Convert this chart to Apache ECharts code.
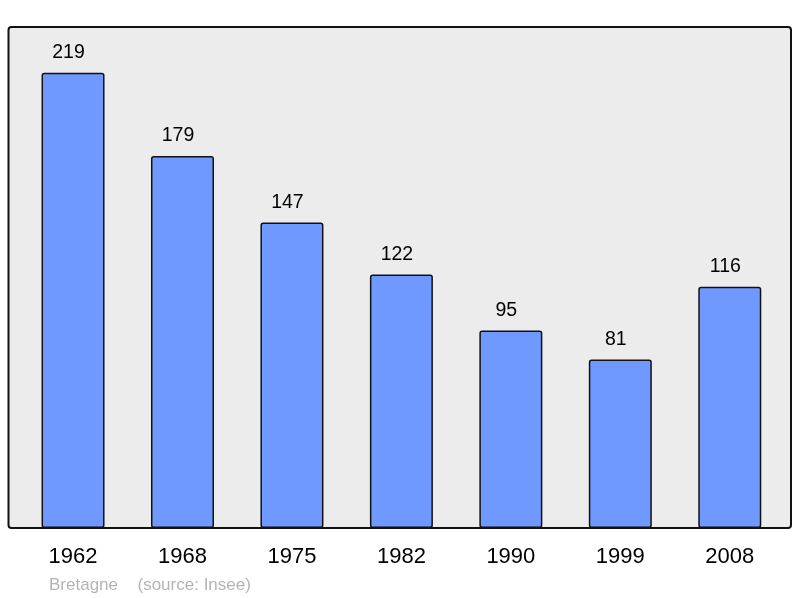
<!DOCTYPE html>
<html>
<head>
<meta charset="utf-8">
<script src="https://cdn.jsdelivr.net/npm/echarts@6/dist/echarts.min.js"></script>
<style>
html,body{margin:0;padding:0;background:#fff;}
#main{width:800px;height:598px;}
</style>
</head>
<body>
<div id="main"></div>
<script>
var annees = ['1962','1968','1975','1982','1990','1999','2008'];
var population = [219,179,147,122,95,81,116];
var region = 'Bretagne';
var source = '(source: Insee)';

var myChart = echarts.init(document.getElementById('main'));
var option = {
	animation: false,
	backgroundColor: '#ffffff',
	/*fond gris du graphique*/
	graphic: [
		{
			type: 'rect',
			z: 0,
			shape: {x: 8.5, y: 27, width: 782.5, height: 501, r: 3},
			style: {fill: '#ececec', stroke: '#111', lineWidth: 2}
		},
		{
			type: 'text',
			x: 49,
			y: 585,
			style: {text: region, fill: '#b4b4b4', verticalAlign: 'middle', font: '17px "Liberation Sans", Arial, sans-serif'}
		},
		{
			type: 'text',
			x: 137.5,
			y: 585,
			style: {text: source, fill: '#b4b4b4', verticalAlign: 'middle', font: '17px "Liberation Sans", Arial, sans-serif'}
		}
	],
	grid: {left: 18.3, right: 15.5, top: 27, bottom: 70},
	xAxis: {
		type: 'category',
		data: annees,
		axisLine: {show: false},
		axisTick: {show: false},
		axisLabel: {
			color: '#000',
			fontSize: 22,
			fontFamily: '"Liberation Sans", Arial, sans-serif',
			margin: 18
		}
	},
	yAxis: {
		type: 'value',
		min: 0,
		max: 241,
		show: false,
		splitLine: {show: false}
	},
	series: [
		{
			type: 'bar',
			data: population,
			barWidth: 63,
			z: 2,
			itemStyle: {
				color: '#7099ff',
				borderColor: '#111',
				borderWidth: 1.5,
				borderRadius: 2
			},
			label: {
				show: true,
				position: 'top',
				distance: 10,
				offset: [-4.5, 0],
				color: '#000',
				fontSize: 19.5,
				fontFamily: '"Liberation Sans", Arial, sans-serif'
			}
		}
	]
};
myChart.setOption(option);
</script>
</body>
</html>
